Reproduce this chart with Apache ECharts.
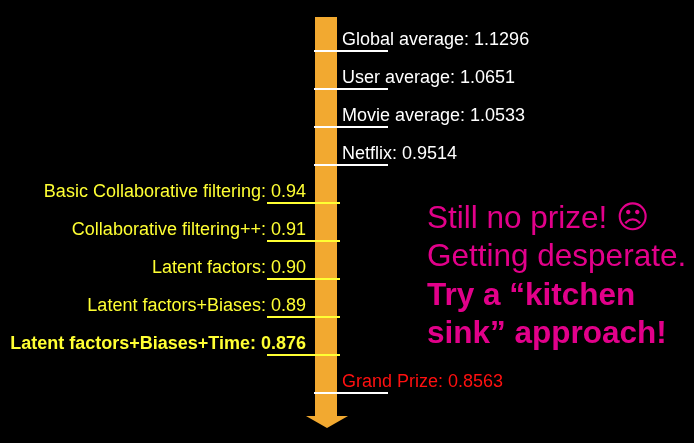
<!DOCTYPE html>
<html>
<head>
<meta charset="utf-8">
<script src="https://cdn.jsdelivr.net/npm/echarts@6/dist/echarts.min.js"></script>
<style>
  html, body { margin: 0; padding: 0; background: #000; }
  #chart { width: 694px; height: 443px; }
</style>
</head>
<body>
<div id="chart"></div>
<script>
// ---- data ----
const labels = [
  'Global average', 'User average', 'Movie average', 'Netflix',
  'Basic Collaborative filtering', 'Collaborative filtering++', 'Latent factors',
  'Latent factors+Biases', 'Latent factors+Biases+Time', 'Grand Prize'
];
const rmse = [1.1296, 1.0651, 1.0533, 0.9514, 0.94, 0.91, 0.90, 0.89, 0.876, 0.8563];
const kinds = ['baseline', 'baseline', 'baseline', 'baseline',
  'method', 'method', 'method', 'method', 'method', 'prize'];
const noteLines = ['Still no prize! \u2639', 'Getting desperate.', 'Try a \u201ckitchen', 'sink\u201d approach!'];
const noteBold = [false, false, true, true];

// ---- styling / layout ----
const WHITE = '#ffffff', YELLOW = '#ffff33', RED = '#ff1010', ORANGE = '#f2a930', MAGENTA = '#e2008a';
const FONT = '"Liberation Sans", Arial, Helvetica, sans-serif';
const lastMethod = kinds.lastIndexOf('method');
const fmt = v => { const s = String(v); const d = (s.split('.')[1] || '').length; return d < 2 ? v.toFixed(2) : s; };

function renderItem(params, api) {
  const i = params.dataIndex;
  const y = api.coord([0, i])[1];
  const kind = kinds[i];
  const right = kind !== 'method';
  const lineColor = kind === 'method' ? YELLOW : WHITE;
  const textColor = kind === 'method' ? YELLOW : (kind === 'prize' ? RED : WHITE);
  const x1 = right ? 314 : 267, x2 = right ? 388 : 340;
  return {
    type: 'group',
    children: [
      { type: 'line', shape: { x1: x1, y1: y, x2: x2, y2: y }, style: { stroke: lineColor, lineWidth: 2 } },
      { type: 'text', style: {
          text: labels[i] + ': ' + fmt(rmse[i]),
          x: right ? 342 : 306, y: y - 11,
          fill: textColor, fontSize: 18, fontFamily: FONT,
          fontWeight: i === lastMethod ? 'bold' : 'normal',
          align: right ? 'left' : 'right', verticalAlign: 'middle'
      } }
    ]
  };
}

const rich = {
  n: { fontSize: 31.5, fontFamily: FONT, color: MAGENTA, lineHeight: 38.5 },
  b: { fontSize: 31.5, fontFamily: FONT, color: MAGENTA, lineHeight: 38.5, fontWeight: 'bold' }
};
const noteText = noteLines.map((t, k) => '{' + (noteBold[k] ? 'b' : 'n') + '|' + t + '}').join('\n');

const chart = echarts.init(document.getElementById('chart'), null, { renderer: 'canvas' });
chart.setOption({
  backgroundColor: '#000',
  animation: false,
  grid: { left: 0, right: 0, top: 51, bottom: 50 },
  xAxis: { type: 'value', min: 0, max: 1, show: false },
  yAxis: { type: 'category', data: labels, inverse: true, boundaryGap: false, show: false },
  graphic: [
    { type: 'rect', z: 0, shape: { x: 315, y: 17, width: 22, height: 399 }, style: { fill: ORANGE } },
    { type: 'polygon', z: 0, shape: { points: [[306, 416], [348, 416], [327, 428]] }, style: { fill: ORANGE } },
    { type: 'text', z: 10, left: 427, top: 203, style: { text: noteText, rich: rich, fill: MAGENTA } }
  ],
  series: [{
    type: 'custom',
    z: 5,
    renderItem: renderItem,
    data: labels.map((l, i) => [0, i])
  }]
});
</script>
</body>
</html>
